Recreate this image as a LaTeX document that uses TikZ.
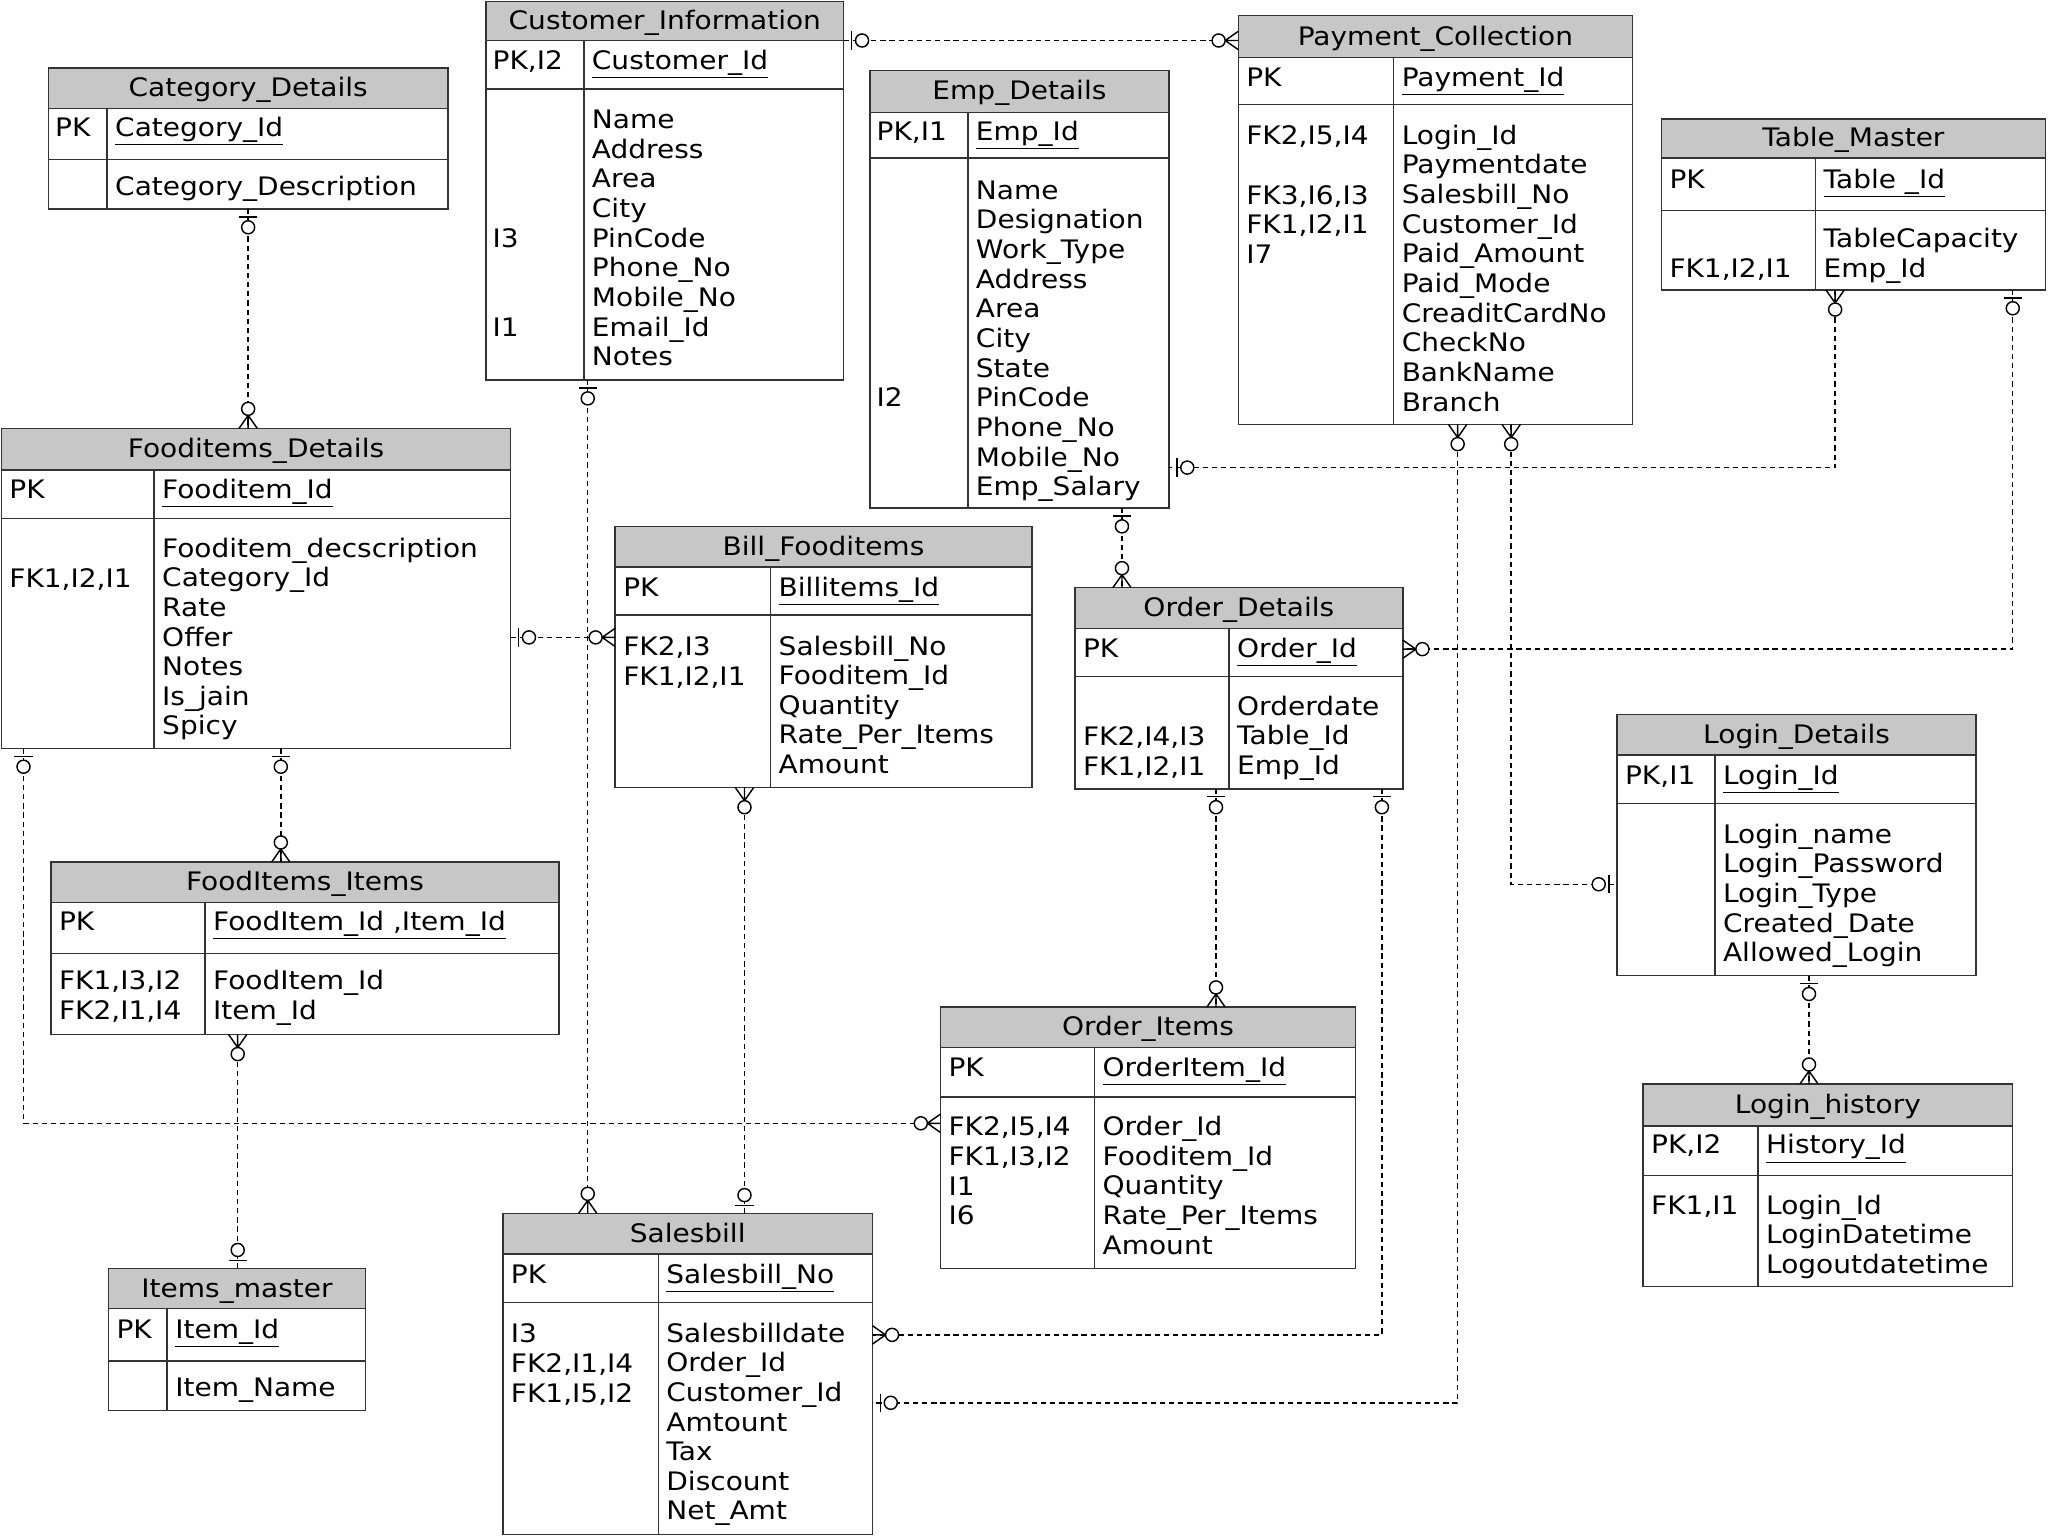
\documentclass[tikz,border=0pt]{standalone}
\usepackage{fontspec}
\setmainfont{DejaVu Sans}[FakeStretch=1.1]
\begin{document}
\begin{tikzpicture}[x=1pt,y=-1pt,
  txt/.style={anchor=base west,inner sep=0,font=\fontsize{19.5}{21}\selectfont},
  ttl/.style={anchor=base,inner sep=0,font=\fontsize{19.5}{21}\selectfont},
  box/.style={draw=black!80,line width=1.1pt},
  hdr/.style={box,fill=black!22},
  rel/.style={dashed,line width=1.1pt,dash pattern=on 4pt off 3pt},
  zo/.pic={\draw[line width=1.1pt] (6,-7)--(6,7); \draw[line width=1.1pt,fill=white] (14,0) circle (5);},
  zm/.pic={\draw[line width=1.1pt] (0,-7)--(10,0) (0,7)--(10,0) (0,0)--(10,0); \draw[line width=1.1pt,fill=white] (15,0) circle (5);}]
\useasboundingbox (0,0) rectangle (1568,1176);
\fill[white] (0,0) rectangle (1568,1176);
\newcommand\ent[9]{%
  \draw[hdr] (#2,#5) rectangle (#3,#6);
  \draw[box] (#2,#6) rectangle (#3,#8);
  \draw[box] (#2,#7) -- (#3,#7) (#4,#6) -- (#4,#8);
  \coordinate (#1-nw) at (#2,#5);
  \coordinate (#1-se) at (#3,#8);
  \node[ttl] at ({(#2+#3)/2},{(#5+#6)/2+6.5}) {#9};}
\newcommand\tx[3]{\node[txt] at (#1,#2+6.5) {#3};}
\newcommand\bodylines[3]{\foreach \t [count=\i from 0] in {#3} {\node[txt] at (#1,#2+\i*22.7+6.5) {\t};}}

\ent{CD}{37}{343}{82}{52}{83}{122}{160}{Category\_Details}
\tx{42}{98}{PK}\tx{88}{98}{\underline{Category\_Id}}\tx{88}{143}{Category\_Description}
\ent{CI}{372}{646}{447}{1}{31}{68}{291}{Customer\_Information}
\tx{377}{47}{PK,I2}\tx{453}{47}{\underline{Customer\_Id}}
\bodylines{453}{92}{Name,Address,Area,City,PinCode,Phone\_No,Mobile\_No,Email\_Id,Notes}
\tx{377}{183}{I3}\tx{377}{251}{I1}
\ent{ED}{666}{895}{741}{54}{86}{121}{389}{Emp\_Details}
\tx{671}{101}{PK,I1}\tx{747}{101}{\underline{Emp\_Id}}
\bodylines{747}{146}{Name,Designation,Work\_Type,Address,Area,City,State,PinCode,Phone\_No,Mobile\_No,Emp\_Salary}
\tx{671}{305}{I2}
\ent{PC}{948}{1250}{1067}{12}{44}{80}{325}{Payment\_Collection}
\tx{954}{60}{PK}\tx{1073}{60}{\underline{Payment\_Id}}
\bodylines{1073}{104}{Login\_Id,Paymentdate,Salesbill\_No,Customer\_Id,Paid\_Amount,Paid\_Mode,CreaditCardNo,CheckNo,BankName,Branch}
\tx{954}{104}{FK2,I5,I4}\tx{954}{150}{FK3,I6,I3}\tx{954}{172}{FK1,I2,I1}\tx{954}{195}{I7}
\ent{TM}{1272}{1566}{1390}{91}{121}{161}{222}{Table\_Master}
\tx{1278}{138}{PK}\tx{1396}{138}{\underline{Table \_Id}}
\tx{1396}{183}{TableCapacity}\tx{1396}{206}{Emp\_Id}\tx{1278}{206}{FK1,I2,I1}
\ent{FD}{1}{391}{118}{328}{360}{397}{573}{Fooditems\_Details}
\tx{7}{375}{PK}\tx{124}{375}{\underline{Fooditem\_Id}}
\bodylines{124}{420}{Fooditem\_decscription,Category\_Id,Rate,Offer,Notes,Is\_jain,Spicy}
\tx{7}{443}{FK1,I2,I1}
\ent{BF}{471}{790}{590}{403}{434}{471}{603}{Bill\_Fooditems}
\tx{477}{450}{PK}\tx{596}{450}{\underline{Billitems\_Id}}
\bodylines{596}{495}{Salesbill\_No,Fooditem\_Id,Quantity,Rate\_Per\_Items,Amount}
\tx{477}{495}{FK2,I3}\tx{477}{518}{FK1,I2,I1}
\ent{OD}{823}{1074}{941}{450}{481}{518}{604}{Order\_Details}
\tx{829}{497}{PK}\tx{947}{497}{\underline{Order\_Id}}
\bodylines{947}{541}{Orderdate,Table\_Id,Emp\_Id}
\tx{829}{564}{FK2,I4,I3}\tx{829}{587}{FK1,I2,I1}
\ent{LD}{1238}{1513}{1313}{547}{578}{615}{747}{Login\_Details}
\tx{1244}{594}{PK,I1}\tx{1319}{594}{\underline{Login\_Id}}
\bodylines{1319}{639}{Login\_name,Login\_Password,Login\_Type,Created\_Date,Allowed\_Login}
\ent{FI}{39}{428}{157}{660}{691}{730}{792}{FoodItems\_Items}
\tx{45}{706}{PK}\tx{163}{706}{\underline{FoodItem\_Id ,Item\_Id}}
\tx{163}{751}{FoodItem\_Id}\tx{163}{774}{Item\_Id}
\tx{45}{751}{FK1,I3,I2}\tx{45}{774}{FK2,I1,I4}
\ent{OI}{720}{1038}{838}{771}{802}{840}{971}{Order\_Items}
\tx{726}{818}{PK}\tx{844}{818}{\underline{OrderItem\_Id}}
\bodylines{844}{863}{Order\_Id,Fooditem\_Id,Quantity,Rate\_Per\_Items,Amount}
\tx{726}{863}{FK2,I5,I4}
\tx{726}{886}{FK1,I3,I2}\tx{726}{909}{I1}\tx{726}{931}{I6}
\ent{LH}{1258}{1541}{1346}{830}{862}{900}{985}{Login\_history}
\tx{1264}{877}{PK,I2}\tx{1352}{877}{\underline{History\_Id}}
\bodylines{1352}{923}{Login\_Id,LoginDatetime,Logoutdatetime}
\tx{1264}{923}{FK1,I1}
\ent{IM}{83}{280}{128}{971}{1002}{1042}{1080}{Items\_master}
\tx{89}{1018}{PK}\tx{134}{1018}{\underline{Item\_Id}}\tx{134}{1063}{Item\_Name}
\ent{SB}{385}{668}{504}{929}{960}{997}{1175}{Salesbill}
\tx{391}{976}{PK}\tx{510}{976}{\underline{Salesbill\_No}}
\bodylines{510}{1021}{Salesbilldate,Order\_Id,Customer\_Id,Amtount,Tax,Discount,Net\_Amt}
\tx{391}{1021}{I3}\tx{391}{1044}{FK2,I1,I4}\tx{391}{1067}{FK1,I5,I2}

\draw[rel] (CI-se |- 0,31) -- (PC-nw |- 0,31);
\draw[rel] (190,0 |- CD-se) -- (190,0 |- FD-nw);
\draw[rel] (450,0 |- CI-se) -- (450,0 |- SB-nw);
\draw[rel] (859,0 |- ED-se) -- (859,0 |- OD-nw);
\draw[rel] (1405,0 |- TM-se) -- (1405,358) -- (ED-se |- 0,358);
\draw[rel] (1541,0 |- TM-se) -- (1541,497) -- (OD-se |- 0,497);
\draw[rel] (1116,0 |- PC-se) -- (1116,1074) -- (SB-se |- 0,1074);
\draw[rel] (1157,0 |- PC-se) -- (1157,677) -- (LD-nw |- 0,677);
\draw[rel] (FD-se |- 0,488) -- (BF-nw |- 0,488);
\draw[rel] (18,0 |- FD-se) -- (18,860) -- (OI-nw |- 0,860);
\draw[rel] (215,0 |- FD-se) -- (215,0 |- FI-nw);
\draw[rel] (182,0 |- FI-se) -- (182,0 |- IM-nw);
\draw[rel] (570,0 |- BF-se) -- (570,0 |- SB-nw);
\draw[rel] (931,0 |- OD-se) -- (931,0 |- OI-nw);
\draw[rel] (1058,0 |- OD-se) -- (1058,1022) -- (SB-se |- 0,1022);
\draw[rel] (1385,0 |- LD-se) -- (1385,0 |- LH-nw);

\pic at (CI-se |- 0,31) {zo}; \pic[rotate=180] at (PC-nw |- 0,31) {zm};
\pic[rotate=-90] at (190,0 |- CD-se) {zo}; \pic[rotate=90] at (190,0 |- FD-nw) {zm};
\pic[rotate=-90] at (450,0 |- CI-se) {zo}; \pic[rotate=90] at (450,0 |- SB-nw) {zm};
\pic[rotate=-90] at (859,0 |- ED-se) {zo}; \pic[rotate=90] at (859,0 |- OD-nw) {zm};
\pic[rotate=-90] at (1405,0 |- TM-se) {zm}; \pic at (ED-se |- 0,358) {zo};
\pic[rotate=-90] at (1541,0 |- TM-se) {zo}; \pic at (OD-se |- 0,497) {zm};
\pic[rotate=-90] at (1116,0 |- PC-se) {zm}; \pic at (SB-se |- 0,1074) {zo};
\pic[rotate=-90] at (1157,0 |- PC-se) {zm}; \pic[rotate=180] at (LD-nw |- 0,677) {zo};
\pic at (FD-se |- 0,488) {zo}; \pic[rotate=180] at (BF-nw |- 0,488) {zm};
\pic[rotate=-90] at (18,0 |- FD-se) {zo}; \pic[rotate=180] at (OI-nw |- 0,860) {zm};
\pic[rotate=-90] at (215,0 |- FD-se) {zo}; \pic[rotate=90] at (215,0 |- FI-nw) {zm};
\pic[rotate=-90] at (182,0 |- FI-se) {zm}; \pic[rotate=90] at (182,0 |- IM-nw) {zo};
\pic[rotate=-90] at (570,0 |- BF-se) {zm}; \pic[rotate=90] at (570,0 |- SB-nw) {zo};
\pic[rotate=-90] at (931,0 |- OD-se) {zo}; \pic[rotate=90] at (931,0 |- OI-nw) {zm};
\pic[rotate=-90] at (1058,0 |- OD-se) {zo}; \pic at (SB-se |- 0,1022) {zm};
\pic[rotate=-90] at (1385,0 |- LD-se) {zo}; \pic[rotate=90] at (1385,0 |- LH-nw) {zm};
\end{tikzpicture}
\end{document}
